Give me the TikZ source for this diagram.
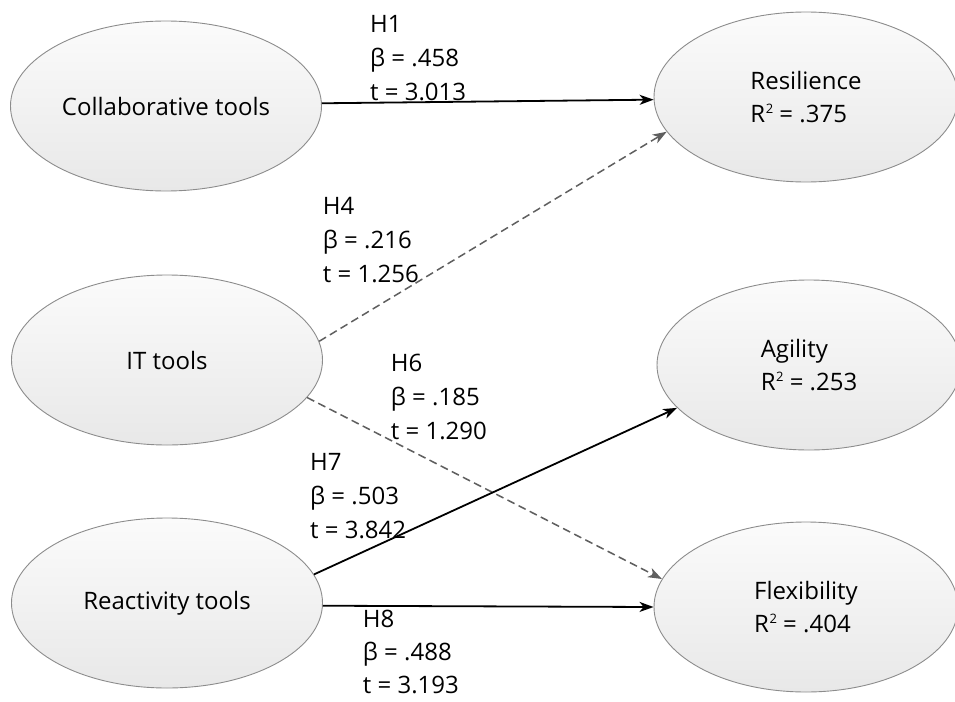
\documentclass[tikz,border=0pt]{standalone}
\usepackage{fontspec}
\setmainfont{Open Sans}
\usetikzlibrary{arrows.meta,shapes.geometric}
\definecolor{edgegray}{RGB}{140,140,140}
\definecolor{dashgray}{RGB}{95,95,95}
\definecolor{filltop}{RGB}{251,251,251}
\definecolor{fillbot}{RGB}{232,232,232}
\newcommand\rsq{R\kern0.5pt\raisebox{8.5pt}{\fontsize{13}{13}\selectfont 2}}
\tikzset{
  construct/.style={ellipse, draw=edgegray, line width=0.9pt, top color=filltop, bottom color=fillbot,
    inner sep=0pt, minimum height=170pt, align=left, font={\fontsize{24}{33}\selectfont}},
  leftc/.style={construct, minimum width=311pt},
  rightc/.style={construct, minimum width=304pt},
  lbl/.style={inner sep=0pt, anchor=north west, align=left, font={\fontsize{24}{34}\selectfont}},
  tip/.style={-{Stealth[length=14pt,width=10pt,inset=4pt]}},
  sig/.style={tip, draw=black, line width=1.8pt},
  nsig/.style={tip, draw=dashgray, line width=1.5pt, dash pattern=on 8pt off 4.5pt}
}
\begin{document}
\begin{tikzpicture}[x=1pt,y=-1pt]
\useasboundingbox (0,0) rectangle (955,701);
\node[leftc] (collab) at (166,106) {Collaborative tools};
\node[leftc] (it) at (167,360) {IT tools};
\node[leftc] (react) at (167,603) {Reactivity tools};
\node[rightc] (res) at (806,97) {Resilience\\\rsq{} = .375};
\node[rightc] (agi) at (809,365) {Agility\\\rsq{} = .253};
\node[rightc] (flex) at (806,607) {Flexibility\\\rsq{} = .404};
\draw[sig] (collab.1.6) -- (res.181.8);
\draw[nsig] (it.7.6) -- (res.194.3);
\draw[nsig] (it.-15.5) -- (flex.169);
\draw[sig] (react.11.7) -- (agi.198);
\draw[sig] (react.-1.4) -- (flex.180.5);
\node[lbl] (l1) at (370,15) {H1\\β = .458\\t = 3.013};
\node[lbl] (l4) at (322.7,197) {H4\\β = .216\\t = 1.256};
\node[lbl] (l6) at (390.7,354) {H6\\β = .185\\t = 1.290};
\node[lbl] (l7) at (310,453) {H7\\β = .503\\t = 3.842};
\node[lbl, font={\fontsize{24}{33}\selectfont}] (l8) at (362.7,610) {H8\\β = .488\\t = 3.193};
\end{tikzpicture}
\end{document}
